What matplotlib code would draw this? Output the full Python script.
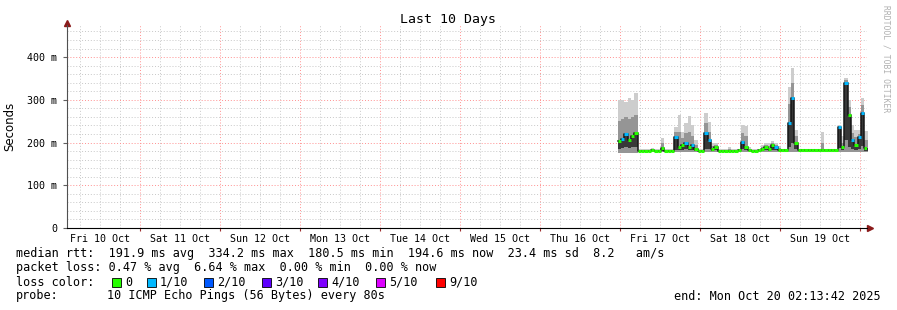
import matplotlib
matplotlib.use('Agg')
import matplotlib.pyplot as plt
from matplotlib.patches import Rectangle
import numpy as np

# time axis in hours from Fri 10 Oct 00:00
t_end = 242.2283          # Mon Oct 20 02:13:42
t_begin = t_end - 240.0
day_labels = ['Fri 10 Oct', 'Sat 11 Oct', 'Sun 12 Oct', 'Mon 13 Oct', 'Tue 14 Oct',
              'Wed 15 Oct', 'Thu 16 Oct', 'Fri 17 Oct', 'Sat 18 Oct', 'Sun 19 Oct']

# samples (1 h each) starting Thu 16 Oct 23:24, values in ms
data_start = 167.4
step = 1.0
rtt_median = [203, 208, 220, 205, 215, 222, 181, 181, 181, 181, 182, 181, 181, 188, 181,
              181, 181, 213, 190, 195, 200, 190, 195, 185, 181, 181, 222, 205, 185, 190,
              181, 181, 181, 181, 181, 181, 182, 201, 190, 183, 181, 181, 182, 185, 190,
              186, 194, 190, 183, 182, 182, 245, 304, 200, 182, 182, 182, 182, 182, 182,
              182, 182, 182, 182, 182, 182, 236, 190, 340, 265, 205, 195, 212, 270, 188]
rtt_max = [300, 300, 295, 305, 300, 315, 185, 184, 184, 184, 188, 184, 184, 210, 184,
           184, 184, 236, 265, 225, 245, 262, 240, 205, 184, 185, 268, 248, 200, 198,
           184, 184, 184, 190, 184, 184, 186, 241, 238, 190, 185, 185, 185, 195, 200,
           198, 203, 200, 192, 186, 186, 330, 374, 230, 186, 185, 185, 185, 185, 185,
           185, 225, 185, 185, 185, 185, 240, 215, 352, 300, 240, 230, 230, 305, 228]
rtt_q3 = [250, 255, 260, 255, 260, 265, 183, 182, 182, 182, 184, 182, 182, 198, 182,
          182, 182, 225, 225, 210, 222, 225, 215, 195, 182, 182, 245, 225, 192, 194,
          182, 182, 182, 184, 182, 182, 184, 222, 215, 186, 183, 183, 183, 190, 195,
          192, 198, 195, 187, 184, 184, 290, 340, 215, 184, 183, 183, 183, 183, 183,
          183, 200, 183, 183, 183, 183, 238, 200, 346, 282, 222, 212, 220, 288, 205]
rtt_q1 = [186, 188, 190, 187, 189, 190, 180, 180, 180, 180, 180, 180, 180, 181, 180,
          180, 180, 183, 182, 183, 184, 182, 183, 181, 180, 180, 185, 184, 181, 182,
          180, 180, 180, 180, 180, 180, 180, 184, 182, 180, 180, 180, 180, 181, 182,
          181, 183, 182, 180, 180, 180, 190, 200, 184, 180, 180, 180, 180, 180, 180,
          180, 181, 180, 180, 180, 180, 188, 182, 205, 190, 184, 183, 186, 192, 181]
rtt_min = [176, 176, 176, 176, 176, 176, 179, 179, 179, 179, 179, 179, 179, 179, 179,
           179, 179, 179, 179, 179, 179, 179, 179, 179, 179, 179, 179, 179, 179, 179,
           179, 179, 179, 179, 179, 179, 179, 179, 179, 179, 179, 179, 179, 179, 179,
           179, 179, 179, 179, 179, 179, 179, 179, 179, 179, 179, 179, 179, 179, 179,
           179, 179, 179, 179, 179, 179, 179, 179, 179, 179, 179, 179, 179, 179, 179]
loss = [0, 1, 1, 0, 0, 0, 0, 0, 0, 0, 0, 0, 0, 0, 0,
        0, 0, 1, 0, 0, 1, 0, 1, 0, 0, 0, 1, 1, 0, 0,
        0, 0, 0, 0, 0, 0, 0, 1, 0, 0, 0, 0, 0, 0, 0,
        0, 0, 1, 0, 0, 0, 1, 1, 0, 0, 0, 0, 0, 0, 0,
        0, 0, 0, 0, 0, 0, 1, 0, 1, 0, 1, 0, 1, 1, 0]

loss_labels = ['0', '1/10', '2/10', '3/10', '4/10', '5/10', '9/10']
loss_colors = ['#26ff00', '#00b8ff', '#0059ff', '#5e00ff', '#7e00ff', '#dd00ff', '#ff0000']
loss_levels = [0, 1, 2, 3, 4, 5, 9]

stats_line1 = 'median rtt:  191.9 ms avg  334.2 ms max  180.5 ms min  194.6 ms now  23.4 ms sd  8.2   am/s'
stats_line2 = 'packet loss: 0.47 % avg  6.64 % max  0.00 % min  0.00 % now'
probe_text = '10 ICMP Echo Pings (56 Bytes) every 80s'
end_text = 'end: Mon Oct 20 02:13:42 2025'

W, H = 897, 310
mono = 'DejaVu Sans Mono'
fig = plt.figure(figsize=(W / 100, H / 100), dpi=100)
ax = fig.add_axes([67 / W, 82 / H, 800 / W, 203 / H])

t = data_start + step * np.arange(len(rtt_median))
te = np.append(t, t[-1] + step)

def ext(v):
    v = np.asarray(v, dtype=float) / 1000.0
    return np.append(v, v[-1])

# smoke
ax.fill_between(te, ext(rtt_min), ext(rtt_max), step='post', color='#cdcdcd', lw=0)
ax.fill_between(te, ext(rtt_min), ext(rtt_q3), step='post', color='#959595', lw=0)
ax.fill_between(te, ext(rtt_q1), ext(rtt_median), step='post', color='#383838', lw=0)

# median line coloured by loss
ax.step(te, ext(rtt_median), where='post', color='#151515', lw=1.1)
cmap = dict(zip(loss_levels, loss_colors))
ax.hlines(np.asarray(rtt_median) / 1000.0, t, t + step,
          colors=[cmap[l] for l in loss], lw=2.2)

ax.set_xlim(t_begin, t_end)
ax.set_ylim(0, 0.475)

# grid
for h in np.arange(6, 246, 6):
    if h % 24 == 0:
        ax.axvline(h, color='#ff9090', lw=0.7, ls=(0, (1, 2)), zorder=0)
    else:
        ax.axvline(h, color='#c8c8c8', lw=0.7, ls=(0, (1, 2)), zorder=0)
for v in np.arange(0.02, 0.48, 0.02):
    if round(v * 1000) % 100 == 0:
        ax.axhline(v, color='#ff9090', lw=0.7, ls=(0, (1, 2)), zorder=0)
    else:
        ax.axhline(v, color='#c8c8c8', lw=0.7, ls=(0, (1, 2)), zorder=0)

ax.set_xticks(np.arange(24, 241, 24))
ax.set_xticklabels([])
ax.tick_params(axis='x', length=2, color='#a03030', direction='out')
ax.set_xticks(np.arange(12, 241, 24), minor=True)
ax.set_xticklabels(day_labels, minor=True, fontfamily=mono, fontsize=7.2)
ax.tick_params(axis='x', which='minor', length=0, pad=4)

yt = [0, 0.1, 0.2, 0.3, 0.4]
ax.set_yticks(yt)
ax.set_yticklabels(['0', '100 m', '200 m', '300 m', '400 m'], fontfamily=mono, fontsize=7.2)
ax.tick_params(axis='y', length=3, color='#606060', pad=4)

for s in ['top', 'right']:
    ax.spines[s].set_visible(False)
ax.spines['bottom'].set_color('black')
ax.spines['left'].set_color('#505050')

# axis arrows
ax.plot([1.004], [0], marker='>', color='#8b1a1a', ms=4, transform=ax.transAxes, clip_on=False)
ax.plot([0], [1.01], marker='^', color='#8b1a1a', ms=4, transform=ax.transAxes, clip_on=False)

ax.set_ylabel('Seconds', fontsize=8.5, labelpad=8)
fig.text(448 / W, 1 - 19 / H, 'Last 10 Days', ha='center', va='center', fontfamily=mono, fontsize=9.5)
fig.text(886 / W, 1 - 5 / H, 'RRDTOOL / TOBI OETIKER', rotation=270, ha='center', va='top',
         fontfamily=mono, fontsize=5.8, color='#b0b0b0')

fs = 8.5
def txt(x, y, s, **kw):
    fig.text(x / W, 1 - y / H, s, va='center', fontfamily=mono, fontsize=fs, **kw)

txt(16, 254, stats_line1)
txt(16, 268, stats_line2)
txt(16, 282, 'loss color:')
box_x = [112, 147, 204, 262, 318, 376, 436]
for bx, lab, col in zip(box_x, loss_labels, loss_colors):
    fig.add_artist(Rectangle((bx / W, 1 - 287 / H), 9 / W, 9 / H, transform=fig.transFigure,
                             facecolor=col, edgecolor='black', lw=0.6))
    txt(bx + 13, 282, lab)
txt(16, 296, 'probe:')
txt(107, 296, probe_text)
txt(881, 296, end_text, ha='right')

fig.savefig('out.png', dpi=100, facecolor='white')
